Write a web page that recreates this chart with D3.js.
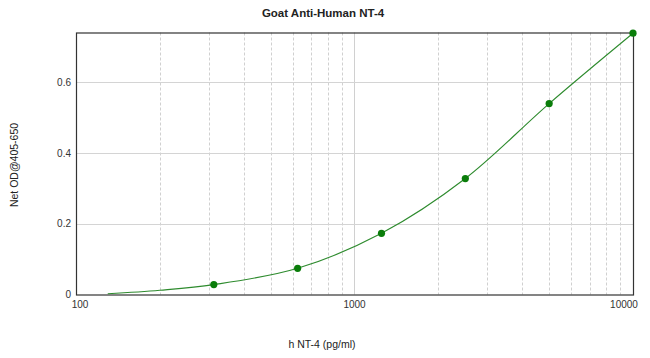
<!DOCTYPE html>
<html>
<head>
<meta charset="utf-8">
<script src="https://cdn.jsdelivr.net/npm/d3@7"></script>
<style>
  html, body { margin: 0; padding: 0; background: #fff; }
  svg { display: block; font-family: "Liberation Sans", Arial, sans-serif; }
</style>
</head>
<body>
<svg id="chart" width="650" height="358"></svg>
<script>
// ---- data ----
const concentrations = [312.5, 625, 1250, 2500, 5000, 10000];
const netOD = [0.028, 0.074, 0.173, 0.328, 0.540, 0.739];
// fitted standard curve
const curveX = [130, 200, 312.5, 625, 1250, 2500, 5000, 10000];
const curveY = [0.002, 0.012, 0.028, 0.074, 0.173, 0.328, 0.540, 0.739];
const xTickLabels = [100, 1000, 10000];
const yTickLabels = [0, 0.2, 0.4, 0.6];
const titleText = "Goat Anti-Human NT-4";
const xTitle = "h NT-4 (pg/ml)";
const yTitle = "Net OD@405-650";

(function () {
const svg = d3.select("#chart");
const pLeft = 76, pRight = 633, pTop = 32.5, pBottom = 294.5;

const x = d3.scaleLog().domain([100, 10000]).range([pLeft, pRight]);
const y = d3.scaleLinear().domain([0, 0.741]).range([pBottom, pTop]);

// vertical grid lines (log minor ticks)
const gridVals = [];
for (let dec = 100; dec < 10000; dec *= 10) {
  for (let k = 2; k <= 9; k++) gridVals.push(k * dec);
  if (dec * 10 < 10000) gridVals.push(dec * 10);
}
svg.append("g").selectAll("line").data(gridVals).join("line")
  .attr("x1", d => Math.round(x(d)) + 0.5).attr("x2", d => Math.round(x(d)) + 0.5)
  .attr("y1", pTop).attr("y2", pBottom)
  .attr("stroke", "#d0d0d0").attr("stroke-width", 1)
  .attr("stroke-dasharray", d => (d === 1000 ? null : "3,2"));

// horizontal grid lines
svg.append("g").selectAll("line").data(yTickLabels.filter(v => v > 0)).join("line")
  .attr("x1", pLeft).attr("x2", pRight)
  .attr("y1", d => Math.round(y(d)) + 0.5).attr("y2", d => Math.round(y(d)) + 0.5)
  .attr("stroke", "#d4d4d4").attr("stroke-width", 1);

// frame
svg.append("rect")
  .attr("x", pLeft + 0.5).attr("y", pTop + 0.5)
  .attr("width", pRight - pLeft).attr("height", pBottom - pTop)
  .attr("fill", "none").attr("stroke", "#333").attr("stroke-width", 1.2);

// y tick labels
svg.append("g").selectAll("text").data(yTickLabels).join("text")
  .attr("x", 71)
  .attr("y", d => y(d) + 3.5)
  .attr("text-anchor", "end")
  .attr("font-size", 10).attr("fill", "#333")
  .text(d => d === 0 ? "0" : d3.format(".1f")(d));

// x tick labels
svg.append("g").selectAll("text").data(xTickLabels).join("text")
  .attr("x", d => d === 10000 ? x(d) - 9 : (d === 100 ? x(d) + 4 : x(d)))
  .attr("y", pBottom + 13)
  .attr("text-anchor", "middle")
  .attr("font-size", 10).attr("fill", "#333")
  .text(d => d);

// curve
const line = d3.line()
  .x((d, i) => x(curveX[i]))
  .y(d => y(d))
  .curve(d3.curveCatmullRom.alpha(0.5));
svg.append("path")
  .datum(curveY)
  .attr("d", line)
  .attr("fill", "none")
  .attr("stroke", "#2e8b2e")
  .attr("stroke-width", 1.1);

// points
svg.append("g").selectAll("circle").data(netOD).join("circle")
  .attr("cx", (d, i) => x(concentrations[i]))
  .attr("cy", d => y(d))
  .attr("r", 3.6)
  .attr("fill", "#0a7d0a");

// titles
svg.append("text")
  .attr("x", 323).attr("y", 17)
  .attr("text-anchor", "middle")
  .attr("font-size", 11.5).attr("font-weight", "bold").attr("fill", "#222")
  .text(titleText);

svg.append("text")
  .attr("x", 322).attr("y", 348)
  .attr("text-anchor", "middle")
  .attr("font-size", 10.5).attr("fill", "#222")
  .text(xTitle);

svg.append("text")
  .attr("transform", "translate(18,165) rotate(-90)")
  .attr("text-anchor", "middle")
  .attr("font-size", 10.5).attr("fill", "#222")
  .text(yTitle);
})();
</script>
</body>
</html>
